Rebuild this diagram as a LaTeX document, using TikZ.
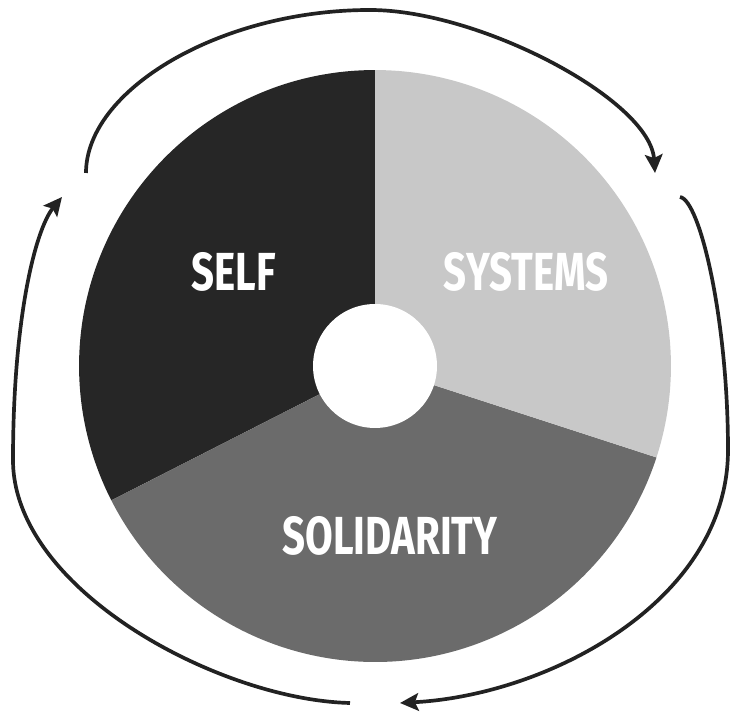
\documentclass[tikz,border=0pt]{standalone}
\usepackage{fontspec}
\newfontfamily\segfont[FakeStretch=0.75]{Fira Sans}
\usetikzlibrary{arrows.meta}

\definecolor{selfgray}{HTML}{262626}
\definecolor{systemsgray}{HTML}{C8C8C8}
\definecolor{soligray}{HTML}{6B6B6B}
\definecolor{arrowgray}{HTML}{222222}

\begin{document}
\begin{tikzpicture}[
		x=0.02cm, y=0.02cm,
		seglabel/.style={text=white,inner sep=0pt,font=\segfont\bfseries\fontsize{30.5}{32}\selectfont},
		cycle arrow/.style={draw=arrowgray,line width=2.1pt,-{Stealth[length=10.5pt,width=10pt,inset=2pt]}}
		]
		\useasboundingbox (0,0) rectangle (731,712);
		\coordinate (c) at (375,346);
		% pie wedges
		\fill[selfgray] (c) -- ++(90:5.92cm) arc[start angle=90,end angle=207,radius=5.92cm] -- cycle;
		\fill[soligray] (c) -- ++(207:5.92cm) arc[start angle=207,end angle=342,radius=5.92cm] -- cycle;
		\fill[systemsgray] (c) -- ++(342:5.92cm) arc[start angle=-18,end angle=90,radius=5.92cm] -- cycle;
		\node[circle,fill=white,minimum size=2.48cm,inner sep=0pt] (hub) at (c) {};
		\node[seglabel] (self) at (234,440) {SELF};
		\node[seglabel] (systems) at (526,440) {SYSTEMS};
		\node[seglabel] (solidarity) at (390,176) {SOLIDARITY};
		% cycle arrows
		\coordinate (topstart) at (86,539);
		\coordinate (topend) at (655,539);
		\coordinate (rightstart) at (680,515);
		\coordinate (rightend) at (400,9);
		\coordinate (leftstart) at (350,9);
		\coordinate (leftend) at (62,515);
		\draw[cycle arrow] (topstart) .. controls (86,622) and (220,702) .. (370,702)
			.. controls (480,702) and (650,612) .. (topend);
		\draw[cycle arrow] (rightstart) .. controls (700,512) and (728,392) .. (728,262)
			.. controls (728,112) and (550,17) .. (rightend);
		\draw[cycle arrow] (leftstart) .. controls (220,12) and (13,122) .. (13,252)
			.. controls (13,392) and (35,482) .. (leftend);
	\end{tikzpicture}
\end{document}
